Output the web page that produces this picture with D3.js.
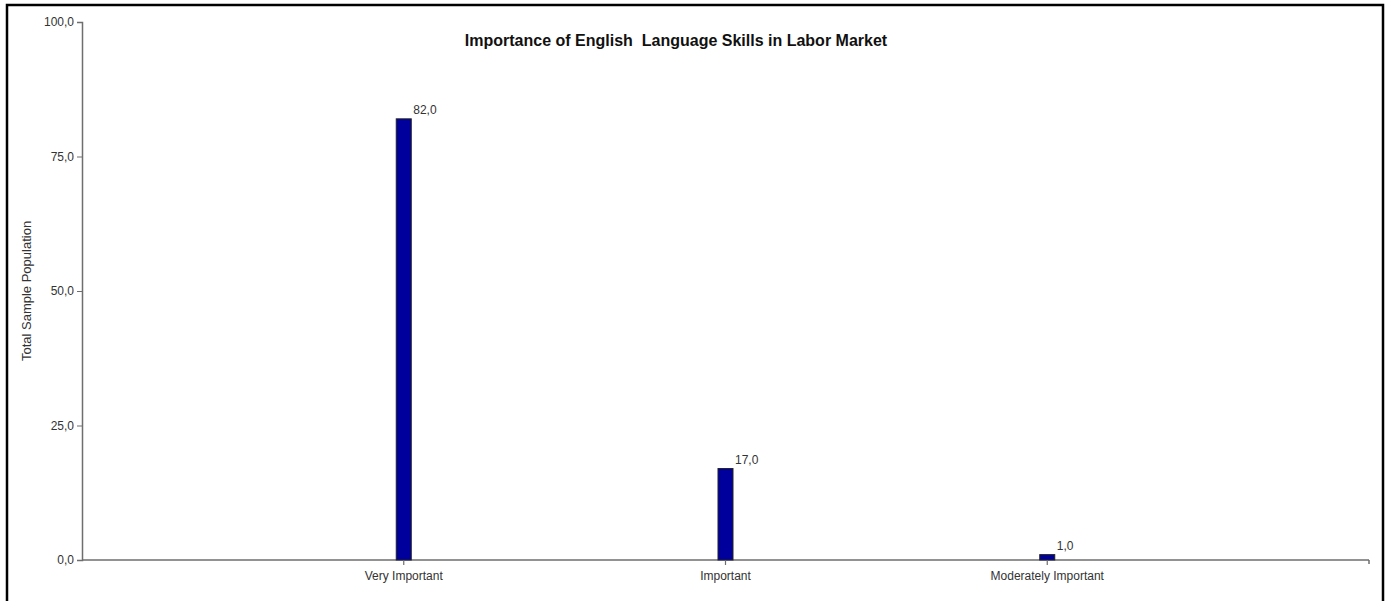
<!DOCTYPE html>
<html>
<head>
<meta charset="utf-8">
<script src="https://cdn.jsdelivr.net/npm/d3@7"></script>
<style>
  html, body { margin: 0; padding: 0; background: #fff; }
  svg { display: block; }
  text { font-family: "Liberation Sans", Arial, sans-serif; }
</style>
</head>
<body>
<div id="chart"></div>
<script>
// chart data
const categories = ['Very Important', 'Important', 'Moderately Important'];
const values = [82.0, 17.0, 1.0];
const yTicks = [0, 25, 50, 75, 100];
const chartTitle = 'Importance of English  Language Skills in Labor Market';
const yTitle = 'Total Sample Population';

const width = 1390, height = 601;
const margin = { top: 22, right: 21, bottom: 41, left: 82 };

const svg = d3.select('#chart').append('svg')
    .attr('width', width)
    .attr('height', height);

// outer frame
svg.append('rect')
    .attr('x', 7).attr('y', 5)
    .attr('width', 1376).attr('height', 620)
    .attr('fill', 'none')
    .attr('stroke', '#000')
    .attr('stroke-width', 2.5);

const innerW = width - margin.left - margin.right;
const innerH = height - margin.top - margin.bottom;

const chart = svg.append('g')
    .attr('transform', `translate(${margin.left},${margin.top})`);

// categories sit on the inner points of a padded point scale
const x = d3.scalePoint()
    .domain(['_start', ...categories, '_end'])
    .range([0, innerW]);

const y = d3.scaleLinear()
    .domain([0, 100])
    .range([innerH, 0]);

const fmt = v => d3.format('.1f')(v).replace('.', ',');

// y axis
const yAxis = chart.append('g')
    .call(d3.axisLeft(y).tickValues(yTicks).tickSize(5).tickFormat(fmt));
yAxis.select('.domain').attr('stroke', '#6e6e6e').attr('stroke-width', 1.5);
yAxis.selectAll('.tick line').attr('stroke', '#6e6e6e');
yAxis.selectAll('.tick text')
    .attr('font-size', '12px')
    .attr('font-family', '"Liberation Sans", Arial, sans-serif')
    .attr('fill', '#333')
    .attr('x', -8);

// x axis line
chart.append('line')
    .attr('x1', 0).attr('x2', innerW)
    .attr('y1', innerH).attr('y2', innerH)
    .attr('stroke', '#6e6e6e').attr('stroke-width', 1.5);
chart.append('line')
    .attr('x1', innerW).attr('x2', innerW)
    .attr('y1', innerH).attr('y2', innerH + 4)
    .attr('stroke', '#6e6e6e').attr('stroke-width', 1.5);

// bars
const barW = 15;
chart.selectAll('.bar')
    .data(categories)
    .join('rect')
    .attr('class', 'bar')
    .attr('x', (d) => x(d) - barW / 2)
    .attr('y', (d, i) => y(values[i]))
    .attr('width', barW)
    .attr('height', (d, i) => innerH - y(values[i]))
    .attr('fill', '#00009c')
    .attr('stroke', '#222')
    .attr('stroke-width', 1);

// category ticks + labels
chart.selectAll('.xtick')
    .data(categories)
    .join('line')
    .attr('class', 'xtick')
    .attr('x1', d => x(d)).attr('x2', d => x(d))
    .attr('y1', innerH).attr('y2', innerH + 5)
    .attr('stroke', '#6e6e6e').attr('stroke-width', 1.2);

chart.selectAll('.xlabel')
    .data(categories)
    .join('text')
    .attr('class', 'xlabel')
    .attr('x', d => x(d))
    .attr('y', innerH + 20)
    .attr('text-anchor', 'middle')
    .attr('font-size', '12px')
    .attr('fill', '#333')
    .text(d => d);

// value labels
chart.selectAll('.vlabel')
    .data(categories)
    .join('text')
    .attr('class', 'vlabel')
    .attr('x', d => x(d) + barW / 2 + 2)
    .attr('y', (d, i) => y(values[i]) - 5)
    .attr('font-size', '12px')
    .attr('fill', '#333')
    .text((d, i) => fmt(values[i]));

// title
svg.append('text')
    .attr('x', 676)
    .attr('y', 46)
    .attr('text-anchor', 'middle')
    .attr('font-size', '16px')
    .attr('font-weight', 'bold')
    .attr('fill', '#111')
    .style('white-space', 'pre')
    .text(chartTitle);

// y title
svg.append('text')
    .attr('transform', `translate(31,${margin.top + innerH / 2}) rotate(-90)`)
    .attr('text-anchor', 'middle')
    .attr('font-size', '13px')
    .attr('fill', '#333')
    .text(yTitle);
</script>
</body>
</html>
